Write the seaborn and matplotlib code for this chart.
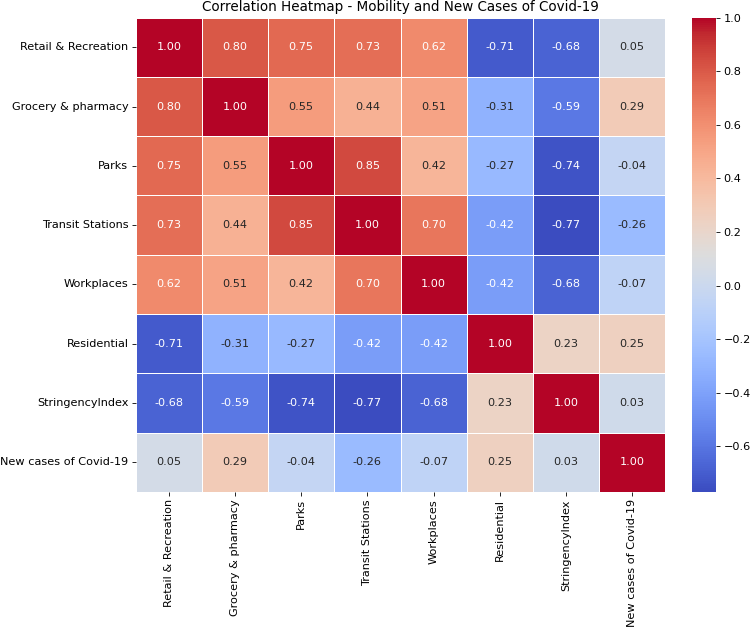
import matplotlib.pyplot as plt
import numpy as np
import pandas as pd
import seaborn as sns

labels = [
    "Retail & Recreation",
    "Grocery & pharmacy",
    "Parks",
    "Transit Stations",
    "Workplaces",
    "Residential",
    "StringencyIndex",
    "New cases of Covid-19",
]

retail = [1.00, 0.80, 0.75, 0.73, 0.62, -0.71, -0.68, 0.05]
grocery = [0.80, 1.00, 0.55, 0.44, 0.51, -0.31, -0.59, 0.29]
parks = [0.75, 0.55, 1.00, 0.85, 0.42, -0.27, -0.74, -0.04]
transit = [0.73, 0.44, 0.85, 1.00, 0.70, -0.42, -0.77, -0.26]
workplaces = [0.62, 0.51, 0.42, 0.70, 1.00, -0.42, -0.68, -0.07]
residential = [-0.71, -0.31, -0.27, -0.42, -0.42, 1.00, 0.23, 0.25]
stringency = [-0.68, -0.59, -0.74, -0.77, -0.68, 0.23, 1.00, 0.03]
new_cases = [0.05, 0.29, -0.04, -0.26, -0.07, 0.25, 0.03, 1.00]

corr = pd.DataFrame(
    [retail, grocery, parks, transit, workplaces, residential, stringency, new_cases],
    index=labels,
    columns=labels,
)

plt.rcParams["font.size"] = 10.8
plt.rcParams["xtick.labelsize"] = 10.8
plt.rcParams["ytick.labelsize"] = 10.8
plt.rcParams["axes.titlesize"] = 13

fig = plt.figure(figsize=(10, 629 / 75), dpi=75)
ax = fig.add_axes([0.181, 0.218, 0.706, 0.754])
cax = fig.add_axes([0.923, 0.218, 0.032, 0.754])

sns.heatmap(
    corr,
    annot=True,
    fmt=".2f",
    cmap="coolwarm",
    linewidths=0.5,
    linecolor="white",
    ax=ax,
    cbar_ax=cax,
)
ax.set_title("Correlation Heatmap - Mobility and New Cases of Covid-19")
ax.set_xlabel("")
ax.set_ylabel("")

fig.savefig("out.png", dpi=75)
